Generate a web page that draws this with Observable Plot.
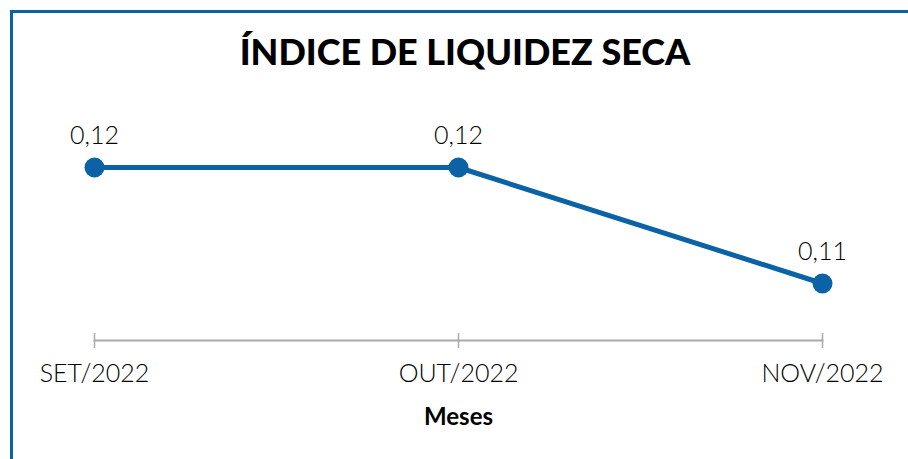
<!DOCTYPE html>
<html>
<head>
<meta charset="utf-8">
<script src="https://cdn.jsdelivr.net/npm/d3@7"></script>
<script src="https://cdn.jsdelivr.net/npm/@observablehq/plot@0.6"></script>
<style>
  html, body { margin: 0; padding: 0; background: #fff; }
  #wrap { position: relative; width: 908px; height: 459px; overflow: hidden; font-family: Lato, "Noto Sans", sans-serif; }
  #border { position: absolute; left: 10px; top: 10px; width: 910px; height: 460px; border-top: 3px solid #0b62a4; border-left: 3px solid #0b62a4; box-sizing: border-box; }
  #title { position: absolute; left: 0; width: 930px; top: 29px; text-align: center; font-weight: 900; font-size: 36px; color: #000; }
  #chart { position: absolute; left: 0; top: 0; }
</style>
</head>
<body>
<div id="wrap">
  <div id="border"></div>
  <div id="title">ÍNDICE DE LIQUIDEZ SECA</div>
  <div id="chart"></div>
</div>
<script>
const months = ["SET/2022", "OUT/2022", "NOV/2022"];
const values = [0.12, 0.12, 0.11];
const labels = ["0,12", "0,12", "0,11"];
const axisTitle = "Meses";

const data = months.map((m, i) => ({month: m, value: values[i], label: labels[i]}));
const blue = "#0b62a4";

const chart = Plot.plot({
  width: 908,
  height: 459,
  marginLeft: 94,
  marginRight: 86,
  marginTop: 40,
  marginBottom: 119,
  style: {fontFamily: "Lato, 'Noto Sans', sans-serif", background: "transparent", overflow: "visible"},
  x: {type: "point", domain: months, padding: 0},
  y: {domain: [0.10, 0.13], range: [399, 51], axis: null},
  marks: [
    Plot.frame({anchor: "bottom", stroke: "#aaa", strokeWidth: 2, strokeOpacity: 1}),
    Plot.tickX(months, {x: d => d, stroke: "#aaa", strokeWidth: 1.5, insetTop: 293}),
    Plot.axisX({tickSize: 8, tickPadding: 16, stroke: "#aaa", strokeWidth: 1.5, fontSize: 25, fontWeight: 300, fill: "#000", label: null}),
    Plot.text([axisTitle], {frameAnchor: "bottom", dx: 0, dy: 84, fontSize: 24, fontWeight: "bold", fill: "#000"}),
    Plot.line(data, {x: "month", y: "value", stroke: blue, strokeWidth: 5}),
    Plot.dot(data, {x: "month", y: "value", r: 10, fill: blue, stroke: "none"}),
    Plot.text(data, {x: "month", y: "value", text: "label", dy: -32, fontSize: 25, fontWeight: 300, fill: "#000"})
  ]
});
document.getElementById("chart").appendChild(chart);
</script>
</body>
</html>
